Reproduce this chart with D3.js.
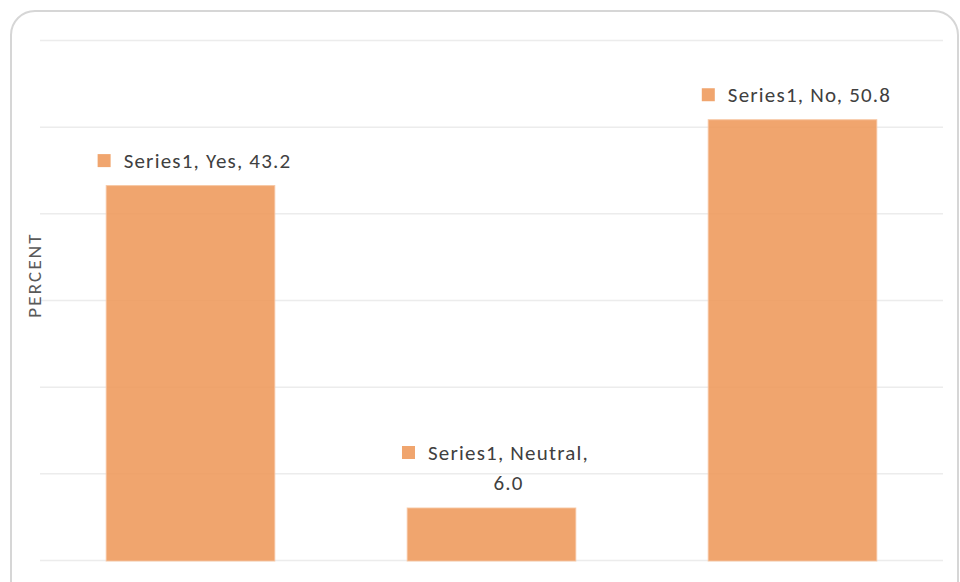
<!DOCTYPE html>
<html>
<head>
<meta charset="utf-8">
<script src="https://cdn.jsdelivr.net/npm/d3@7"></script>
<style>
  html, body { margin: 0; padding: 0; background: #ffffff; }
  svg { display: block; }
  text { font-family: Calibri, Carlito, Lato, "Open Sans", sans-serif; }
</style>
</head>
<body>
<svg id="chart" width="960" height="582"></svg>
<script>
// Survey responses (percent of respondents)
const seriesName = "Series1";
const categories = ["Yes", "Neutral", "No"];
const values = [43.2, 6.0, 50.8];
const yTicks = [0, 10, 20, 30, 40, 50, 60];
const yTitle = "PERCENT";

const plot = { left: 40, right: 943, top: 40, bottom: 560 };
const barColor = "rgb(238,155,94)";

const svg = d3.select("#chart");

// Rounded chart frame
svg.append("rect")
  .attr("x", 11).attr("y", 11)
  .attr("width", 947).attr("height", 600)
  .attr("rx", 24).attr("ry", 24)
  .attr("fill", "#ffffff")
  .attr("stroke", "#d6d6d6")
  .attr("stroke-width", 2);

const x = d3.scaleBand()
  .domain(categories)
  .range([plot.left, plot.right])
  .paddingInner(0.44)
  .paddingOuter(0.22);

const y = d3.scaleLinear()
  .domain([0, 60])
  .range([plot.bottom, plot.top]);

// Horizontal gridlines (no tick labels)
const grid = svg.append("g")
  .attr("transform", `translate(${plot.left},0)`)
  .call(d3.axisLeft(y).tickValues(yTicks).tickSize(-(plot.right - plot.left)).tickFormat(""));
grid.select(".domain").remove();
grid.selectAll(".tick line")
  .attr("stroke", "#ececec")
  .attr("stroke-width", 1.5);

// Bars
const data = categories.map((c, i) => ({ cat: c, value: values[i] }));
svg.append("g").selectAll("rect")
  .data(data)
  .join("rect")
  .attr("x", d => x(d.cat))
  .attr("y", d => y(d.value))
  .attr("width", x.bandwidth())
  .attr("height", d => y(0) - y(d.value) + 1)
  .attr("fill", barColor)
  .attr("fill-opacity", 0.9)
  .attr("stroke", "rgba(246,196,160,0.9)")
  .attr("stroke-width", 1);

// Y-axis title
svg.append("text")
  .attr("transform", `translate(41,275) rotate(-90)`)
  .attr("text-anchor", "middle")
  .attr("font-size", 19)
  .attr("fill", "#595959")
  .attr("letter-spacing", 2.2)
  .text(yTitle);

// Data labels: legend key + "Series, Category, Value", wrapped when too wide
const fontSize = 21;
const letterSpacing = 1.2;
const maxTextWidth = 185;
const lineGap = 30.5;
const keySize = 13, keyGap = 13;

const labels = svg.append("g");
data.forEach(d => {
  const full = `${seriesName}, ${d.cat}, ${d.value.toFixed(1)}`;
  const g = labels.append("g");
  const probe = g.append("text")
    .attr("font-size", fontSize)
    .attr("letter-spacing", letterSpacing)
    .text(full);
  let lines = [full];
  if (probe.node().getComputedTextLength() > maxTextWidth) {
    const words = full.split(" ");
    lines = [];
    let cur = "";
    words.forEach(w => {
      const test = cur ? cur + " " + w : w;
      probe.text(test);
      if (probe.node().getComputedTextLength() > maxTextWidth && cur) {
        lines.push(cur);
        cur = w;
      } else {
        cur = test;
      }
    });
    if (cur) lines.push(cur);
  }
  const widths = lines.map(l => { probe.text(l); return probe.node().getComputedTextLength(); });
  probe.remove();
  const textW = d3.max(widths);
  const blockW = keySize + keyGap + textW;
  const cx = x(d.cat) + x.bandwidth() / 2 + 4;
  const left = cx - blockW / 2;
  const textCx = left + keySize + keyGap + textW / 2;
  const lastCy = y(d.value) - 25;
  const firstCy = lastCy - (lines.length - 1) * lineGap;

  g.append("rect")
    .attr("x", left)
    .attr("y", firstCy - keySize / 2)
    .attr("width", keySize).attr("height", keySize)
    .attr("fill", barColor).attr("fill-opacity", 0.9);

  lines.forEach((l, i) => {
    g.append("text")
      .attr("x", lines.length > 1 ? textCx : left + keySize + keyGap)
      .attr("y", firstCy + i * lineGap)
      .attr("dy", "0.35em")
      .attr("text-anchor", lines.length > 1 ? "middle" : "start")
      .attr("font-size", fontSize)
      .attr("letter-spacing", letterSpacing)
      .attr("fill", "#404040")
      .text(l);
  });
});
</script>
</body>
</html>
